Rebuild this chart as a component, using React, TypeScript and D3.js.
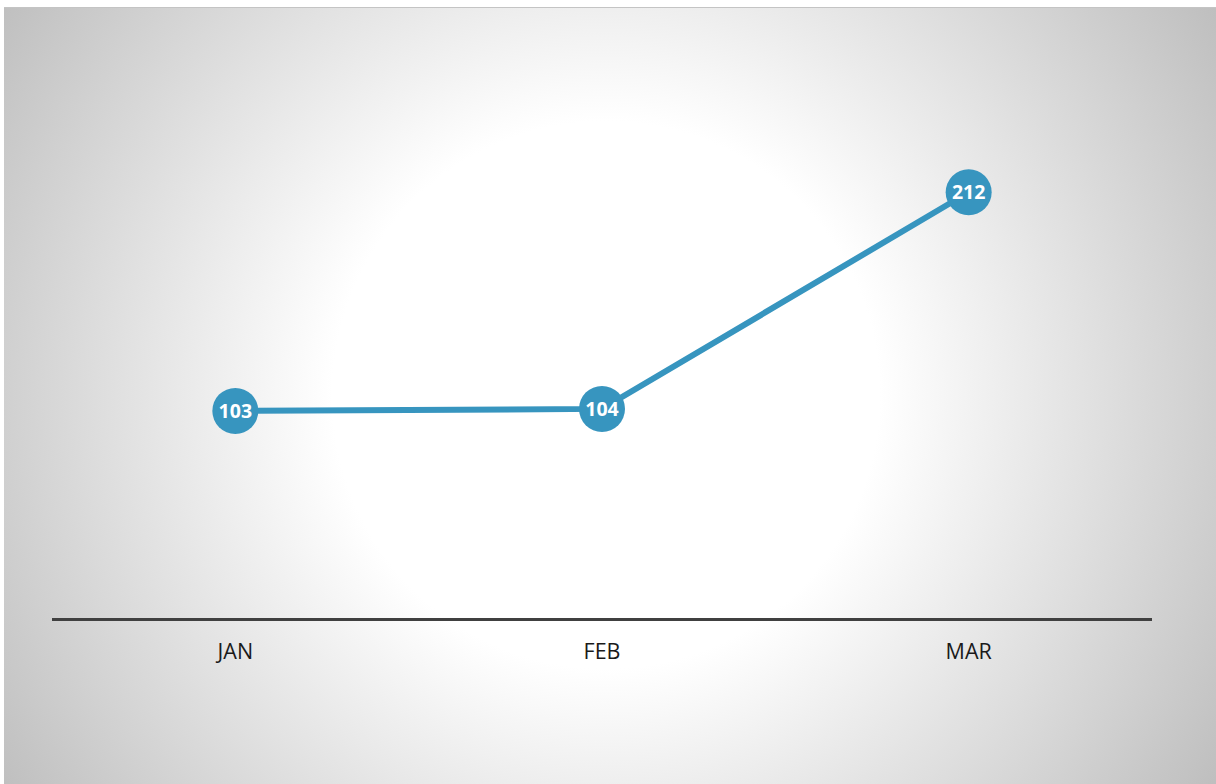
import React from "react";
import * as d3 from "d3";

const categories = ["JAN", "FEB", "MAR"];
const values = [103, 104, 212];

export default function App() {
  const W = 1216, H = 784;
  const x = d3.scaleBand<string>().domain(categories).range([52, 1152]);
  const y = d3.scaleLinear().domain([0, 250]).range([617.5, 116]);
  const pts = categories.map((c, i) => [x(c)! + x.bandwidth() / 2, y(values[i])] as [number, number]);
  const line = d3.line();
  return (
    <svg width={W} height={H} style={{ position: "absolute", left: 0, top: 0 }}>
      <defs>
        <radialGradient id="bg" gradientUnits="userSpaceOnUse" cx={606} cy={395} r={720}>
          <stop offset="0" stopColor="#ffffff" />
          <stop offset="0.38" stopColor="#ffffff" />
          <stop offset="1" stopColor="#bfbfbf" />
        </radialGradient>
      </defs>
      <rect x={0} y={0} width={W} height={H} fill="#ffffff" />
      <rect x={4} y={7} width={W - 4} height={H - 7} fill="url(#bg)" />
      <line x1={4} x2={W} y1={7.5} y2={7.5} stroke="#c4c4c4" strokeWidth={1} />
      <line x1={52} x2={1152} y1={619.5} y2={619.5} stroke="#404040" strokeWidth={3} />
      {categories.map((c) => (
        <text key={c} x={x(c)! + x.bandwidth() / 2} y={658.5} textAnchor="middle"
          fontFamily="'Open Sans', sans-serif" fontSize={21.5} fill="#1a1a1a">{c}</text>
      ))}
      <path d={line(pts)!} fill="none" stroke="#3795bf" strokeWidth={6} />
      {pts.map((p, i) => (
        <g key={i}>
          <circle cx={p[0]} cy={p[1]} r={23} fill="#3795bf" />
          <text x={p[0]} y={p[1] + 7} textAnchor="middle" fontFamily="'Open Sans', sans-serif"
            fontWeight="bold" fontSize={19.5} fill="#ffffff">{values[i]}</text>
        </g>
      ))}
    </svg>
  );
}
